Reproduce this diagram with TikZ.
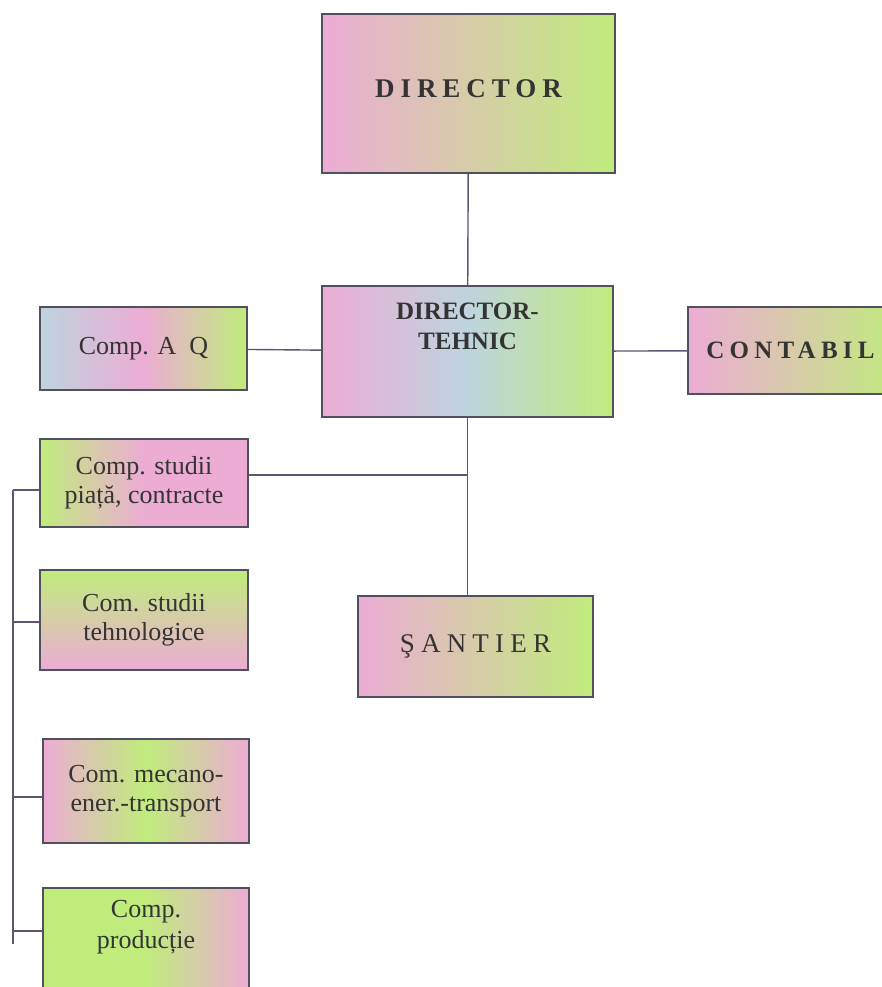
\documentclass[tikz,border=0pt]{standalone}
\usepackage{fontspec}
\setmainfont{Liberation Serif}
\definecolor{pk}{RGB}{236,172,212}
\definecolor{gr}{RGB}{192,236,124}
\definecolor{bl}{RGB}{190,212,222}
\definecolor{edgecol}{RGB}{80,80,95}
\definecolor{linkcol}{RGB}{95,85,115}
\definecolor{ink}{RGB}{52,52,52}
\tikzset{
  unit/.style={draw=edgecol, line width=1.5pt, inner sep=0pt, align=center,
    text=ink, font=\fontsize{26}{29}\selectfont},
  caption/.style={align=center, text=ink, inner sep=0pt, font=\fontsize{26}{31}\selectfont},
  link/.style={draw=linkcol, line width=1.4pt},
}
\begin{document}
\begin{tikzpicture}[x=1pt, y=-1pt]
    \useasboundingbox (0,0) rectangle (881,987);
    \fill[white] (0,0) rectangle (881,987);

    % top of the chart
    \node[unit, minimum width=293pt, minimum height=159pt, left color=pk, right color=gr]
      (dir) at (468.5,93.5) {\raisebox{9pt}{\fontsize{27}{29}\selectfont\bfseries\addfontfeature{LetterSpace=22}DIRECTOR}};
    \node[unit, minimum width=291pt, minimum height=131pt, left color=pk, right color=gr, middle color=bl]
      (tehnic) at (467.5,351.5) {};
    \node[caption, font=\fontsize{25}{30}\selectfont\bfseries] (tehnicT) at (467.5,326) {DIRECTOR-\\TEHNIC};

    \node[unit, minimum width=207pt, minimum height=83pt, left color=bl, right color=gr, middle color=pk]
      (aq) at (143.5,348.5) {Comp. A\ \ Q};
    \node[unit, minimum width=215pt, minimum height=87pt, left color=pk, right color=gr]
      (contabil) at (795.5,350.5) {\raisebox{-4pt}{\fontsize{25}{29}\selectfont\bfseries\addfontfeature{LetterSpace=21}CONTABIL}\hspace*{10pt}};

    % compartments
    \node[unit, minimum width=208pt, minimum height=88pt, left color=gr, right color=pk, middle color=pk]
      (piata) at (144,483) {Comp. studii\\piață, contracte};
    \node[unit, minimum width=208pt, minimum height=100pt, top color=gr, bottom color=pk]
      (tehno) at (144,620) {Com. studii\\tehnologice};
    \node[unit, minimum width=206pt, minimum height=104pt, left color=pk, right color=pk, middle color=gr]
      (mecano) at (146,791) {Com. mecano-\\ener.-transport};
    \node[unit, minimum width=206pt, minimum height=112pt, left color=gr, right color=pk, middle color=gr]
      (prod) at (146,944) {};
    \node[caption] (prodT) at (146,927) {Comp.\\producție};

    \node[unit, minimum width=235pt, minimum height=101pt, left color=pk, right color=gr]
      (santier) at (475.5,646.5) {\fontsize{27}{29}\selectfont\addfontfeature{LetterSpace=23}ŞANTIER};

    % connectors
    \draw[link] (dir) -- (tehnic);
    \draw[link] (aq) -- (tehnic);
    \draw[link] (tehnic) -- (contabil);
    \draw[link] (tehnic.south) -- (tehnic.south |- santier.north);
    \draw[link] ([yshift=8pt]piata.east) -- ([yshift=8pt]piata.east -| tehnic.south);

    \coordinate (busTop) at (13,490);
    \coordinate (busEnd) at (13,944);
    \draw[link] (busTop) -- (busEnd);
    \foreach \n/\s in {piata/-7, tehno/-2, mecano/-6, prod/13}
      \draw[link] ([yshift=\s pt]\n.west) -- ([yshift=\s pt]\n.west -| busTop);
\end{tikzpicture}
\end{document}
